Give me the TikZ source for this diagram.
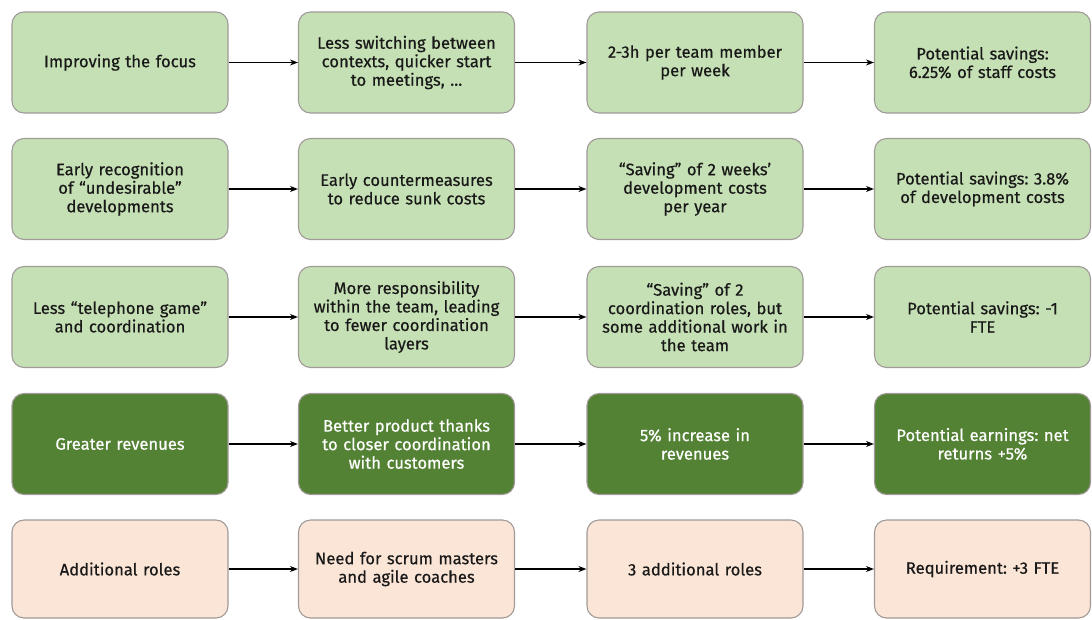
\documentclass[tikz,border=0pt]{standalone}
\usepackage{fontspec}
\setmainfont{Fira Sans}
\newfontfamily\boxfont{Fira Sans}[FakeBold=0.5]
\usetikzlibrary{arrows.meta}
\definecolor{lgreen}{HTML}{C5E0B4}
\definecolor{dgreen}{HTML}{548235}
\definecolor{peach}{HTML}{FBE5D6}
\definecolor{bordergray}{HTML}{A09A98}
\tikzset{
  box/.style={draw=bordergray, line width=1.1pt, rounded corners=12pt,
    minimum width=216pt, minimum height=101pt, text width=212pt, inner sep=0pt,
    align=center, font=\boxfont\fontsize{16.6}{18.5}\selectfont\frenchspacing, text=black!90},
  lbox/.style={box, fill=lgreen},
  dbox/.style={box, fill=dgreen, text=white},
  pbox/.style={box, fill=peach, minimum height=98pt},
  arr/.style={line width=1.6pt, -{Stealth[length=8pt,width=6pt]}}
}
\begin{document}
\begin{tikzpicture}[x=1pt,y=-1pt]
\useasboundingbox (0,0) rectangle (1092,619);
% row 1
\node[lbox] (a1) at (120,62.5) {Improving the focus};
\node[lbox] (b1) at (406.5,62.5) {Less switching between\\contexts, quicker start\\to meetings, ...};
\node[lbox] (c1) at (695,62.5) {2-3h per team member\\per week};
\node[lbox] (d1) at (982.5,62.5) {Potential savings:\\6.25\% of staff costs};
% row 2
\node[lbox] (a2) at (120,189) {Early recognition\\of “undesirable”\\developments};
\node[lbox] (b2) at (406.5,189) {Early countermeasures\\to reduce sunk costs};
\node[lbox] (c2) at (695,189) {“Saving” of 2 weeks’\\development costs\\per year};
\node[lbox] (d2) at (982.5,189) {Potential savings: 3.8\%\\of development costs};
% row 3
\node[lbox] (a3) at (120,317) {Less “telephone game”\\and coordination};
\node[lbox] (b3) at (406.5,317) {More responsibility\\within the team, leading\\to fewer coordination\\layers};
\node[lbox] (c3) at (695,317) {“Saving” of 2\\coordination roles, but\\some additional work in\\the team};
\node[lbox] (d3) at (982.5,317) {Potential savings: -1\\FTE};
% row 4
\node[dbox] (a4) at (120,444) {Greater revenues};
\node[dbox] (b4) at (406.5,444) {Better product thanks\\to closer coordination\\with customers};
\node[dbox] (c4) at (695,444) {5\% increase in\\revenues};
\node[dbox] (d4) at (982.5,444) {Potential earnings: net\\returns +5\%};
% row 5
\node[pbox] (a5) at (120,569) {Additional roles};
\node[pbox] (b5) at (406.5,569) {Need for scrum masters\\and agile coaches};
\node[pbox] (c5) at (695,569) {3 additional roles};
\node[pbox] (d5) at (982.5,569) {Requirement: +3 FTE};
\foreach \r in {1,...,5}{
  \draw[arr] (a\r.east) -- (b\r.west);
  \draw[arr] (b\r.east) -- (c\r.west);
  \draw[arr] (c\r.east) -- (d\r.west);
}
\end{tikzpicture}
\end{document}
